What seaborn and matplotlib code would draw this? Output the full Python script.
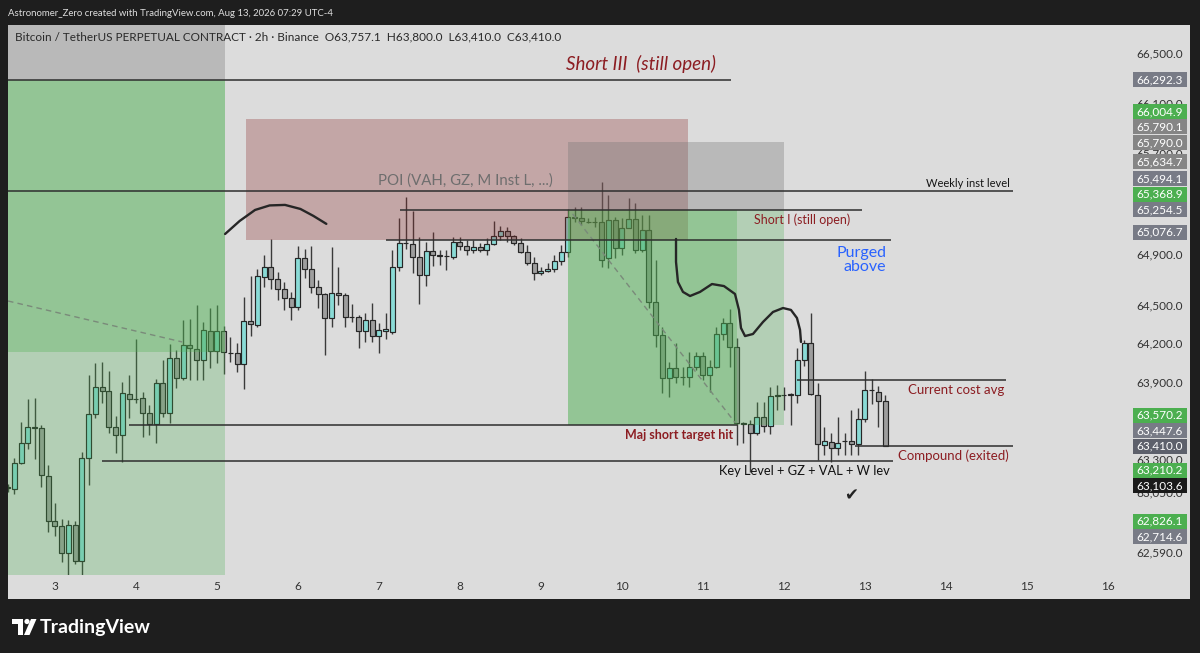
import matplotlib
matplotlib.use("Agg")
import numpy as np
import matplotlib.pyplot as plt
from matplotlib.patches import Rectangle, Polygon, Circle
from matplotlib.ticker import NullLocator
import seaborn as sns

# Candles de 2h (BTCUSDT perp, Binance); o primeiro abre em 2 ago 10:00
first_open = 2 + 10 / 24
opens = [63090, 63077, 63282, 63435, 63554, 63547, 63182, 62838, 62797, 62590,
         62805, 62534, 63320, 63655, 63869, 63835, 63559, 63495, 63812, 63773,
         63778, 63663, 63580, 63900, 63663, 64089, 63933, 64192, 64158, 64076,
         64304, 64145, 64304, 64132, 64127, 64045, 64383, 64349, 64727, 64806,
         64707, 64630, 64557, 64492, 64876, 64788, 64648, 64588, 64401, 64601,
         64583, 64414, 64409, 64302, 64388, 64265, 64305, 64292, 64806, 64992,
         64984, 64884, 64740, 64929, 64894, 64890, 64880, 64998, 64965, 64937,
         64958, 64937, 64984, 65048, 65087, 65050, 64990, 64924, 64832, 64754,
         64772, 64790, 64852, 64924, 65195, 65192, 65160, 65161, 65160, 64871,
         65174, 64950, 65108, 65180, 64937, 65095, 64531, 64270, 63933, 64016,
         63946, 63941, 64024, 64107, 63959, 64024, 64276, 64362, 64174, 63585,
         63580, 63509, 63637, 63565, 63796, 63804, 63804, 63804, 64076, 64206,
         63804, 63417, 63443, 63392, 63448, 63448, 63425, 63616, 63843, 63830,
         63757.1]
highs = [63120, 63315, 63598, 63773, 63778, 63572, 63265, 62975, 62851, 62843,
         62836, 63366, 63959, 64050, 64058, 63993, 63644, 63907, 63959, 64239,
         63830, 63726, 63926, 64076, 64200, 64153, 64388, 64393, 64505, 64375,
         64479, 64505, 64341, 64257, 64210, 64570, 64733, 64786, 64898, 65022,
         64767, 64688, 64609, 64969, 64942, 64971, 64701, 64596, 64958, 64806,
         64596, 64513, 64427, 64440, 64523, 64367, 64440, 64937, 65187, 65353,
         65247, 65042, 65003, 65082, 64937, 64937, 65040, 65040, 65016, 65016,
         64990, 65029, 65167, 65127, 65121, 65056, 65029, 64977, 64880, 64806,
         64832, 64898, 64977, 65259, 65279, 65279, 65187, 65200, 65476, 65372,
         65200, 65187, 65345, 65306, 65214, 65214, 64858, 64336, 64063, 64206,
         64024, 64140, 64140, 64140, 64076, 64336, 64401, 64471, 64244, 63598,
         63611, 63752, 63752, 63869, 63881, 63868, 63817, 64166, 64231, 64445,
         63899, 63554, 63508, 63632, 63508, 63688, 63701, 63993, 63925, 63874,
         63800]
lows = [63055, 63041, 63272, 63385, 63308, 63093, 62750, 62721, 62521, 62420,
        62509, 62410, 63110, 63629, 63740, 63509, 63354, 63290, 63624, 63740,
        63478, 63495, 63430, 63632, 63586, 63855, 63920, 63920, 63920, 63920,
        64011, 64052, 63965, 64062, 63985, 63848, 64265, 64333, 64648, 64630,
        64544, 64466, 64388, 64466, 64714, 64596, 64479, 64114, 64336, 64505,
        64331, 64375, 64166, 64218, 64218, 64127, 64237, 64278, 64772, 64945,
        64759, 64510, 64653, 64811, 64819, 64780, 64866, 64937, 64898, 64913,
        64920, 64898, 64977, 65016, 65003, 64977, 64911, 64819, 64701, 64740,
        64764, 64767, 64819, 64882, 65158, 65135, 65148, 65121, 64806, 64793,
        64871, 64898, 65108, 64911, 64924, 64479, 64179, 63817, 63791, 63894,
        63881, 63868, 63998, 63920, 63830, 64011, 64231, 64024, 63417, 63430,
        63213, 63495, 63521, 63503, 63688, 63688, 63572, 63740, 64029, 63804,
        63303, 63341, 63290, 63341, 63341, 63341, 63341, 63598, 63734, 63559,
        63410]
closes = [63095, 63277, 63431, 63558, 63549, 63188, 62838, 62800, 62590, 62805,
          62534, 63315, 63655, 63869, 63838, 63559, 63495, 63817, 63770, 63769,
          63667, 63580, 63900, 63663, 64089, 63933, 64192, 64166, 64076, 64310,
          64145, 64304, 64140, 64127, 64045, 64383, 64354, 64733, 64806, 64707,
          64630, 64557, 64492, 64876, 64788, 64648, 64591, 64401, 64601, 64583,
          64414, 64411, 64302, 64388, 64265, 64308, 64315, 64806, 64992, 64988,
          64884, 64740, 64929, 64898, 64890, 64886, 64998, 64969, 64937, 64958,
          64937, 64984, 65048, 65087, 65050, 64990, 64924, 64832, 64754, 64772,
          64790, 64852, 64924, 65195, 65192, 65166, 65161, 65158, 64858, 65174,
          64950, 65108, 65180, 64937, 65095, 64531, 64270, 63933, 64016, 63946,
          63943, 64024, 64107, 63959, 64024, 64276, 64362, 64174, 63585, 63580,
          63509, 63637, 63565, 63796, 63804, 63801, 63812, 64076, 64210, 63809,
          63423, 63448, 63392, 63435, 63446, 63425, 63616, 63843, 63841, 63757,
          63410]

# eixos
day_ticks = list(range(3, 17))
price_ticks = [66500, 66100, 65700, 64900, 64500, 64200, 63900, 63300,
               63050, 62590]

# etiquetas da escala de preço
tag_prices = [66292.3, 66004.9, 65790.1, 65790.0, 65634.7, 65494.1, 65368.9,
              65254.5, 65076.7, 63570.2, 63447.6, 63410.0, 63210.2, 63103.6,
              62826.1, 62714.6]
tag_kinds = ["gray", "green", "neutral", "neutral", "neutral", "gray", "green",
             "gray", "gray", "green", "gray", "last", "green", "black",
             "green", "gray"]

# linhas horizontais: preço, início e fim (dia de agosto)
level_prices = [66292.3, 65403, 65254.5, 65016, 63570.2, 63295, 63920, 63410]
level_start = [2.0, 2.0, 7.26, 7.09, 3.91, 3.58, 12.16, 12.88]
level_end = [11.35, 14.83, 12.96, 13.32, 11.42, 13.35, 14.74, 14.83]

# posição Short III
s3_start, s3_end = 2.0, 5.1
s3_entry, s3_stop, s3_reached, s3_target = 66292.3, 67000, 64140, 62300
# zona POI
poi_start, poi_end = 5.36, 10.82
poi_low, poi_high = 65015, 65980
# posição Short I
s1_start, s1_hit, s1_end = 9.33, 11.42, 12.0
s1_entry, s1_stop, s1_target = 65254.5, 65790.0, 63570.2

# linhas tracejadas das posições
s3_path_t = [2.42, 4.57]
s3_path_p = [64536, 64216]
s1_path_t = [9.39, 11.40]
s1_path_p = [65222, 63588]

# desenhos à mão livre
curve1_t = [5.10, 5.28, 5.47, 5.65, 5.84, 6.03, 6.19, 6.35]
curve1_p = [65063, 65166, 65253, 65289, 65293, 65261, 65206, 65143]
curve2_t = [10.667, 10.667, 10.691, 10.753, 10.840, 10.963, 11.111, 11.259,
            11.395, 11.444, 11.469, 11.519, 11.617, 11.741, 11.864, 11.988,
            12.086, 12.160, 12.198, 12.210]
curve2_p = [65024, 64843, 64685, 64607, 64575, 64607, 64669, 64653, 64591,
            64466, 64325, 64262, 64278, 64372, 64450, 64481, 64466, 64403,
            64310, 64216]

# ---------------------------------------------------------------
sns.set_style("white")
plt.rcParams["font.family"] = ["Lato", "DejaVu Sans"]

W, H = 1200, 653
fig = plt.figure(figsize=(W / 100, H / 100), dpi=100)
fig.patch.set_facecolor("#1e1e1e")

# fundo em pixels
bg = fig.add_axes([0, 0, 1, 1], zorder=0)
bg.set_xlim(0, W)
bg.set_ylim(H, 0)
bg.axis("off")
bg.add_patch(Rectangle((8, 25), 1182, 574, color="#dcdcdc", lw=0))
bg.text(8, 13, "Astronomer_Zero created with TradingView.com, Aug 13, 2026 07:29 UTC-4",
        color="#dedede", fontsize=6.9, va="center")
# logo
bg.add_patch(Polygon([(12, 619), (23, 619), (23, 635), (17.5, 635), (17.5, 624), (12, 624)],
                     color="white", lw=0))
bg.add_patch(Circle((27, 621.5), 2.6, color="white", lw=0))
bg.add_patch(Polygon([(24, 635), (29.5, 635), (36.5, 619), (31, 619)], color="white", lw=0))
bg.text(40, 627, "TradingView", color="white", fontsize=14, fontweight="bold",
        va="center", ha="left")

# gráfico principal
ax = fig.add_axes([8 / W, 78 / H, 1117 / W, 550 / H], zorder=1)
ax.set_facecolor("none")
ax.set_yscale("log")
ax.set_xlim(2.42, 16.21)
ax.set_ylim(62425, 66734.5)
ax.yaxis.set_minor_locator(NullLocator())
ax.axis("off")

t = first_open + np.arange(len(opens)) / 12
o, h, l, c = map(np.array, (opens, highs, lows, closes))
up = c >= o
lo = np.minimum(o, c)
hi = np.maximum(o, c)
ax.vlines(t, l, h, color="#3a3a3a", lw=1.0, zorder=2)
ax.bar(t[up], hi[up] - lo[up], bottom=lo[up], width=0.062, color="#8adbd6",
       edgecolor="#262626", lw=0.85, zorder=3)
ax.bar(t[~up], hi[~up] - lo[~up], bottom=lo[~up], width=0.062, color="#9e9e9e",
       edgecolor="#262626", lw=0.85, zorder=3)

green = "#4caf50"
stopgray = "#787878"
# Short III
ax.add_patch(Rectangle((s3_start, s3_entry), s3_end - s3_start, s3_stop - s3_entry,
                       color=stopgray, alpha=0.35, lw=0, zorder=4))
ax.add_patch(Rectangle((s3_start, s3_reached), s3_end - s3_start, s3_entry - s3_reached,
                       color=green, alpha=0.5, lw=0, zorder=4))
ax.add_patch(Rectangle((s3_start, s3_target), s3_end - s3_start, s3_reached - s3_target,
                       color=green, alpha=0.28, lw=0, zorder=4))
# POI
ax.add_patch(Rectangle((poi_start, poi_low), poi_end - poi_start, poi_high - poi_low,
                       color="#8b2a2a", alpha=0.3, lw=0, zorder=4))
# Short I
ax.add_patch(Rectangle((s1_start, s1_entry), s1_end - s1_start, s1_stop - s1_entry,
                       color=stopgray, alpha=0.35, lw=0, zorder=4))
ax.add_patch(Rectangle((s1_start, s1_target), s1_hit - s1_start, s1_entry - s1_target,
                       color=green, alpha=0.5, lw=0, zorder=4))
ax.add_patch(Rectangle((s1_hit, s1_target), s1_end - s1_hit, s1_entry - s1_target,
                       color=green, alpha=0.28, lw=0, zorder=4))

ax.plot(s3_path_t, s3_path_p, color="#7a8a7a", lw=1, ls=(0, (4, 3)), zorder=5)
ax.plot(s1_path_t, s1_path_p, color="#7a8a7a", lw=1, ls=(0, (4, 3)), zorder=5)

ax.hlines(level_prices, level_start, level_end, color="#2e2e2e", lw=1.1, zorder=5)

sns.lineplot(x=curve1_t, y=curve1_p, sort=False, estimator=None, ax=ax,
             color="#262626", lw=1.7, zorder=6)
sns.lineplot(x=curve2_t, y=curve2_p, sort=False, estimator=None, ax=ax,
             color="#262626", lw=1.7, zorder=6)

red = "#8c1d22"
ax.text(10.235, 66419, "Short III  (still open)", color=red, fontsize=13.5,
        style="italic", ha="center", va="center", zorder=7)
ax.text(8.07, 65485, "POI (VAH, GZ, M Inst L, ...)", color="#6e6e6e", fontsize=10.8,
        ha="center", va="center", zorder=7)
ax.text(14.27, 65466, "Weekly inst level", color="#151515", fontsize=8,
        ha="center", va="center", zorder=7)
ax.text(12.22, 65174, "Short I (still open)", color=red, fontsize=9,
        ha="center", va="center", zorder=7)
ax.text(13.26, 64858, "Purged\nabove", color="#2962ff", fontsize=11.5, ha="right",
        va="center", multialignment="right", linespacing=1.0, zorder=7)
ax.text(11.37, 63495, "Maj short target hit", color=red, fontsize=9,
        fontweight="bold", ha="right", va="center", zorder=7)
ax.text(13.53, 63843, "Current cost avg", color=red, fontsize=9.5,
        ha="left", va="center", zorder=7)
ax.text(13.41, 63333, "Compound (exited)", color=red, fontsize=9.5,
        ha="left", va="center", zorder=7)
ax.text(12.25, 63218, "Key Level + GZ + VAL + W lev", color="#111111", fontsize=9.3,
        ha="center", va="center", zorder=7)
ax.text(12.83, 63034, "\u2714", color="#222222", fontsize=12, family="DejaVu Sans",
        ha="center", va="center", zorder=7)

# camada de pixels por cima (escalas)
ov = fig.add_axes([0, 0, 1, 1], zorder=3)
ov.set_xlim(0, W)
ov.set_ylim(H, 0)
ov.axis("off")


def px(tt, pp):
    X, Y = ax.transData.transform((tt, pp))
    return X, H - Y


ov.text(15, 37, "Bitcoin / TetherUS PERPETUAL CONTRACT \u00b7 2h \u00b7 Binance  "
        "O63,757.1  H63,800.0  L63,410.0  C63,410.0",
        color="#2a2a2a", fontsize=8.5, va="center")

for d in day_ticks:
    X, _ = px(d, 64000)
    ov.text(X, 587, str(d), color="#333333", fontsize=8.5, ha="center",
            va="center")

for p in price_ticks:
    _, Y = px(10, p)
    ov.text(1183, Y, f"{p:,.1f}", color="#333333", fontsize=8.5, ha="right",
            va="center", zorder=1)

tag_colors = {"gray": "#787b86", "green": "#4caf50", "neutral": "#858585",
              "last": "#5d606b", "black": "#1a1a1a"}
order = np.argsort(tag_prices)
prev = None
for k in order:
    _, Y = px(10, tag_prices[k])
    if prev is not None and Y > prev - 15.5:
        Y = prev - 15.5
    prev = Y
    ov.add_patch(Rectangle((1133, Y - 7.5), 54, 15, color=tag_colors[tag_kinds[k]],
                           lw=0, zorder=2))
    ov.text(1183, Y, f"{tag_prices[k]:,.1f}", color="white", fontsize=8.5,
            ha="right", va="center", zorder=3)

fig.savefig("out.png", dpi=100, facecolor=fig.get_facecolor())
